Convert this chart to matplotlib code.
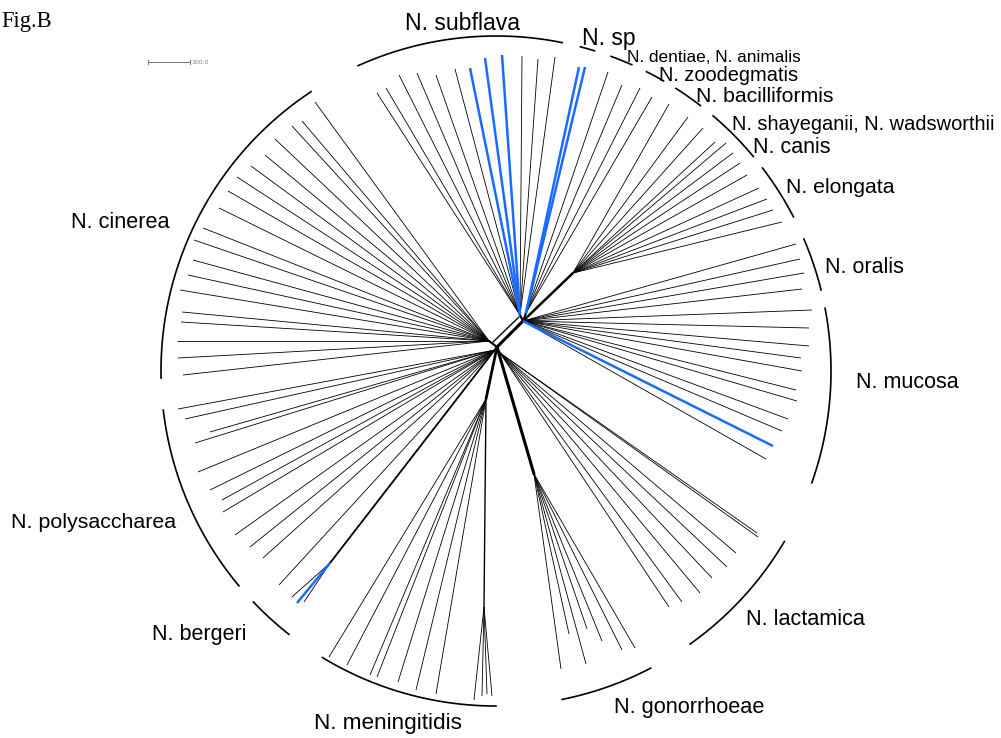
import numpy as np
import matplotlib.pyplot as plt

# network nodes in pixel units (y grows downwards)
hub_left = (497, 347)
hub_right = (523, 321)
node_subflava = (520, 315)
node_sp = (526, 313)
node_upper = (573, 273)
node_cinerea = (489, 341)
node_polysacch = (495, 350)
node_bergeri = (330, 563)
node_lactamica = (500, 353)
node_mening = (486, 399)
node_mening2 = (484, 607)
node_gono = (534, 474)

# leaf tips per clade
subflava_tips = [(377, 93), (386, 88), (399, 75), (417, 73), (436, 75), (455, 69),
                 (522, 56), (538, 59), (555, 57)]
subflava_blue = [(470, 68), (485, 58), (502, 55)]
sp_blue = [(579, 67), (585, 67)]
dentiae_tips = [(608, 72), (622, 85), (640, 88), (652, 97)]
upper_tips = [(669, 104), (688, 117), (703, 128), (715, 142), (726, 143), (733, 153),
              (740, 163), (747, 175), (759, 188), (767, 199), (773, 210), (782, 222)]
oralis_tips = [(796, 244), (800, 259), (804, 273), (802, 289)]
mucosa_tips = [(812, 310), (809, 328), (809, 346), (801, 358), (802, 371), (796, 390),
               (797, 401), (788, 419), (782, 431), (766, 459)]
mucosa_blue = [(773, 446)]
lactamica_tips = [(758, 537), (757, 533), (736, 553), (727, 567), (712, 578),
                  (700, 593), (682, 602), (669, 607)]
gono_tips = [(635, 648), (622, 650), (602, 641), (587, 629), (586, 664), (569, 634),
             (561, 669)]
mening_tips = [(329, 657), (347, 665), (370, 675), (377, 677), (398, 682), (416, 690),
               (436, 694)]
mening2_tips = [(474, 700), (482, 696), (487, 694), (492, 696)]
bergeri_tips = [(292, 597), (304, 602)]
bergeri_blue = [(297, 603)]
bergeri_extra = [(279, 585)]
polysacch_tips = [(178, 409), (185, 419), (210, 432), (195, 443), (198, 472), (210, 490),
                  (222, 500), (223, 512), (235, 535), (250, 547), (263, 558)]
cinerea_tips = [(315, 102), (302, 121), (292, 126), (275, 139), (265, 155), (251, 166),
                (237, 177), (228, 191), (219, 208), (203, 228), (194, 240), (193, 260),
                (188, 275), (180, 290), (182, 312), (181, 322), (177, 341), (178, 358),
                (183, 375)]

# clade arcs (degrees, counter-clockwise from east)
arc_start = [114.3, 75.4, 69.9, 63.3, 57.5, 49.6, 37.3, 23.2, 10.8, -30.6, -62.5,
             -121.2, -136.4, -140.1, 123.5]
arc_end = [78.6, 72.9, 66.1, 60.0, 52.4, 39.8, 27.4, 14.0, -19.5, -54.6, -78.6,
           -90.0, -128.2, -173.3, 181.2]

label_text = ['N. subflava', 'N. sp', 'N. dentiae, N. animalis', 'N. zoodegmatis',
              'N. bacilliformis', 'N. shayeganii, N. wadsworthii', 'N. canis',
              'N. elongata', 'N. oralis', 'N. mucosa', 'N. lactamica', 'N. gonorrhoeae',
              'N. meningitidis', 'N. bergeri', 'N. polysaccharea', 'N. cinerea']
label_pos = [(405, 30), (582, 45), (627, 62), (659, 81), (696, 102), (732, 130),
             (753, 153), (786, 193), (825, 273), (856, 388), (746, 625), (614, 713),
             (314, 729), (152, 640), (11, 528), (71, 228)]
label_size = [16.6, 16.6, 12.4, 14.4, 15.3, 14.4, 15.5, 15.3, 15.5, 15.5, 15.6, 15.7,
              16.2, 15.5, 15.4, 15.6]

BLUE = '#1a6bff'

fig = plt.figure(figsize=(10.01, 7.38), dpi=100)
ax = fig.add_axes([0, 0, 1, 1])
ax.set_xlim(0, 1001)
ax.set_ylim(738, 0)
ax.axis('off')


def fan(parent, tips, color='black', lw=0.6):
    for x, y in tips:
        ax.plot([parent[0], x], [parent[1], y], color=color, lw=lw,
                solid_capstyle='butt')


def edge(a, b, lw=2.0):
    ax.plot([a[0], b[0]], [a[1], b[1]], color='black', lw=lw, solid_capstyle='round')


# inner splits
edge(hub_left, hub_right, 2.2)
edge((492, 343), (519, 317), 1.0)
edge(hub_right, node_subflava, 1.5)
edge(hub_right, node_sp, 1.5)
edge(hub_right, node_upper, 1.8)
edge(hub_left, node_cinerea, 1.5)
edge(hub_left, node_polysacch, 1.5)
edge(hub_left, node_lactamica, 1.2)
edge(hub_left, node_bergeri, 1.3)
edge(hub_left, node_mening, 2.0)
edge(node_mening, node_mening2, 1.0)
edge(hub_left, node_gono, 2.2)

fan(node_subflava, subflava_tips)
fan(node_sp, dentiae_tips)
fan(node_upper, upper_tips)
fan(hub_right, oralis_tips)
fan(hub_right, mucosa_tips)
fan(node_lactamica, lactamica_tips)
fan(node_gono, gono_tips)
fan(node_mening, mening_tips)
fan(node_mening2, mening2_tips)
fan(node_bergeri, bergeri_tips)
fan(hub_left, bergeri_extra)
fan(node_polysacch, polysacch_tips)
fan(node_cinerea, cinerea_tips)

fan(node_subflava, subflava_blue, BLUE, 1.8)
fan(node_sp, sp_blue, BLUE, 1.8)
fan(hub_right, mucosa_blue, BLUE, 1.8)
fan(node_bergeri, bergeri_blue, BLUE, 1.8)

# clade arcs
cx, cy, r = 496, 371, 335
for a0, a1 in zip(arc_start, arc_end):
    t = np.radians(np.linspace(a0, a1, 120))
    ax.plot(cx + r * np.cos(t), cy - r * np.sin(t), color='black', lw=1.2)

for txt, (x, y), fs in zip(label_text, label_pos, label_size):
    ax.text(x, y, txt, fontsize=fs, family='Liberation Sans', ha='left', va='baseline')

ax.text(1, 27, 'Fig.B', fontsize=16.3, family='Liberation Serif', ha='left', va='baseline')

# scale bar
ax.plot([148, 190], [62, 62], color='0.45', lw=0.7)
ax.plot([148, 148], [60, 64], color='0.45', lw=0.7)
ax.plot([190, 190], [60, 64], color='0.45', lw=0.7)
ax.text(191, 62.5, '100.0', fontsize=4.5, color='0.5', ha='left', va='center')

fig.savefig('out.png', dpi=100)
